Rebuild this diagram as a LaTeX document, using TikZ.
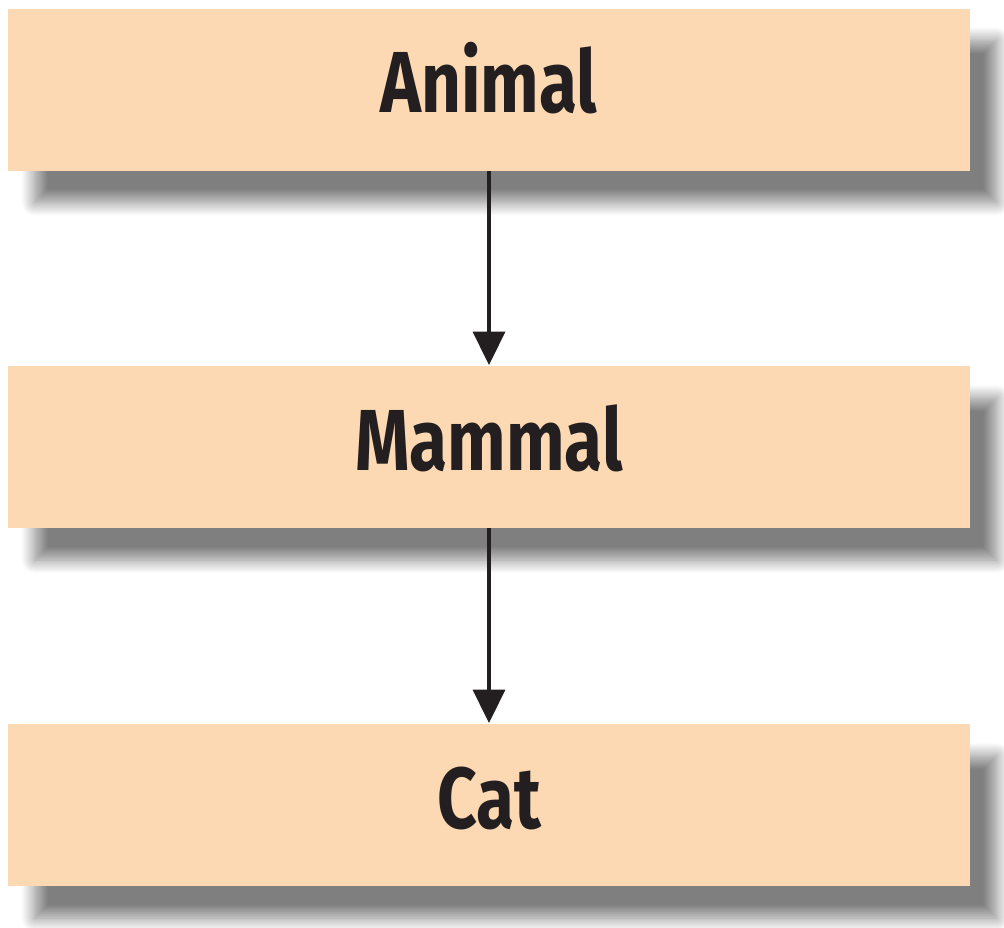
\documentclass[tikz,border=0pt]{standalone}
\usepackage{fontspec}
\newfontfamily\lblfont{Fira Sans}[FakeStretch=0.8]
\usetikzlibrary{shadows.blur,arrows.meta}
\definecolor{peach}{RGB}{252,217,179}
\definecolor{ink}{RGB}{35,31,32}
\begin{document}
\begin{tikzpicture}[x=0.75pt,y=-0.75pt,
  classbox/.style={fill=peach,
    minimum width=721.5pt, minimum height=121.5pt, inner sep=0pt,
    text height=45pt, text depth=10.5pt, text=ink,
    font=\lblfont\bfseries\fontsize{65pt}{70pt}\selectfont,
    blur shadow={shadow xshift=20pt, shadow yshift=-24pt, shadow blur radius=10pt, shadow blur steps=16, shadow opacity=50}},
  link/.style={draw=ink, line width=2.4pt, -{Triangle[length=25pt,width=24pt]}, shorten >=0.5pt}]
\useasboundingbox (0,0) rectangle (1004,928);
\clip (0,0) rectangle (1004,928);
\node[classbox] (animal) at (489,89.5) {Animal};
\node[classbox] (mammal) at (489,447) {Mammal};
\node[classbox] (cat) at (489,805) {Cat};
\draw[link] (animal.south) -- (mammal.north);
\draw[link] (mammal.south) -- (cat.north);
\end{tikzpicture}
\end{document}
